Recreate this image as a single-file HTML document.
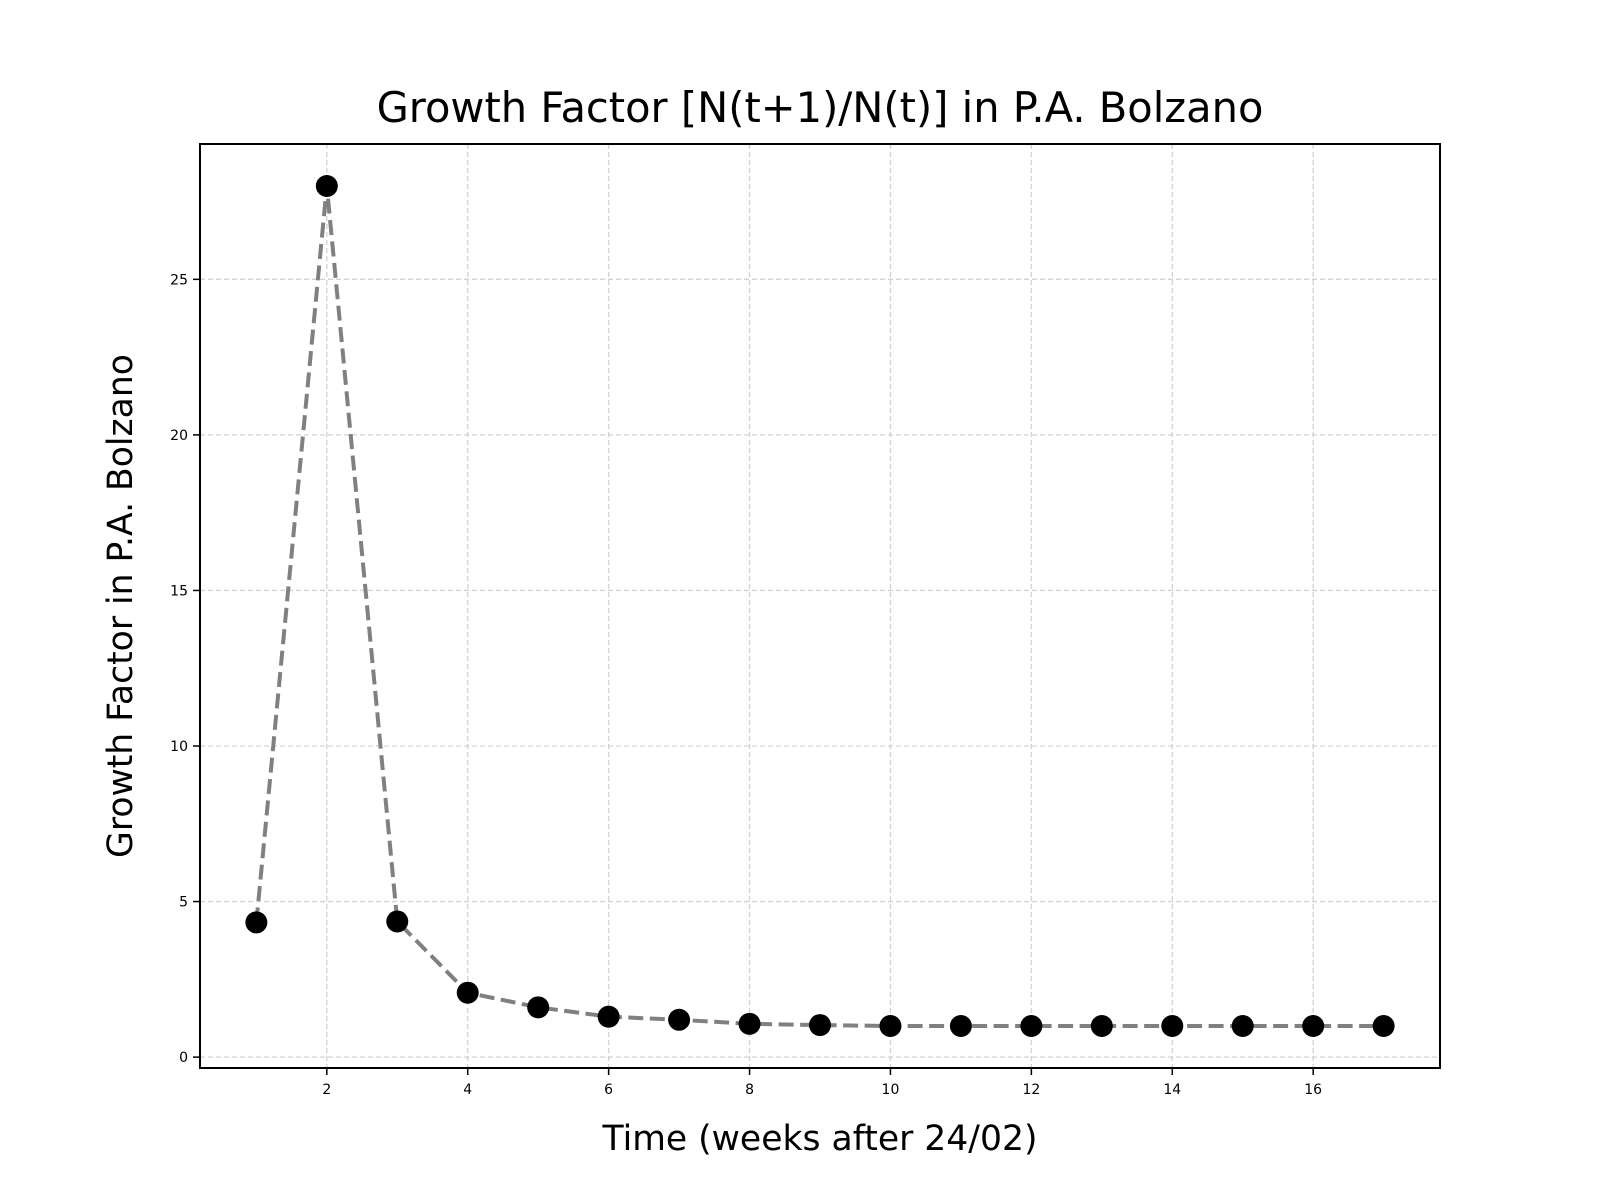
<!DOCTYPE html>
<html><head><meta charset="utf-8"><style>html,body{margin:0;padding:0;background:#fff}svg{display:block}</style></head>
<body>
<svg id="chart" width="1600" height="1200" xmlns="http://www.w3.org/2000/svg" font-family="'DejaVu Sans','Liberation Sans',sans-serif">
<rect width="1600" height="1200" fill="#fff"/>
<text x="820" y="122" font-size="41.6" text-anchor="middle" fill="#000">Growth Factor [N(t+1)/N(t)] in P.A. Bolzano</text>
<g id="grid"></g><g id="ticks"></g><g id="series"></g>
<rect x="200" y="144" width="1240" height="924" fill="none" stroke="#000" stroke-width="2"/>
<text x="820" y="1150" font-size="34.6" text-anchor="middle">Time (weeks after 24/02)</text>
<text transform="translate(132,606) rotate(-90)" font-size="34.6" text-anchor="middle">Growth Factor in P.A. Bolzano</text>
</svg>
<script>
const weeks = [1,2,3,4,5,6,7,8,9,10,11,12,13,14,15,16,17];
const growth = [4.33,28.0,4.36,2.07,1.6,1.3,1.2,1.07,1.03,1.0,1.0,1.0,1.0,1.0,1.0,1.0,1.0];
const xTicks = [2,4,6,8,10,12,14,16];
const yTicks = [0,5,10,15,20,25];
const NS='http://www.w3.org/2000/svg';
const L=200,R=1440,T=144,B=1068;
const xmin=0.2,xmax=17.8,ymin=-0.35,ymax=29.35;
const sx=v=>L+(v-xmin)/(xmax-xmin)*(R-L);
const sy=v=>B-(v-ymin)/(ymax-ymin)*(B-T);
function mk(tag,attrs,parent){const e=document.createElementNS(NS,tag);for(const k in attrs)e.setAttribute(k,attrs[k]);parent.appendChild(e);return e;}
const grid=document.getElementById('grid'),ticks=document.getElementById('ticks'),series=document.getElementById('series');
xTicks.forEach(t=>{
  const g=mk('line',{x1:sx(t),x2:sx(t),y1:T,y2:B,stroke:'#d3d3d3','stroke-width':1.3,'stroke-dasharray':'5,3'},grid);
  
  
  const tk=mk('line',{x1:sx(t),x2:sx(t),y1:B,y2:B+7,stroke:'#000','stroke-width':1.5},ticks);
  
  
  const lb=mk('text',{x:sx(t),y:B+26,'font-size':14,'text-anchor':'middle'},ticks);
  lb.textContent=t;
  
  
});
yTicks.forEach(t=>{
  const g=mk('line',{x1:L,x2:R,y1:sy(t),y2:sy(t),stroke:'#d3d3d3','stroke-width':1.3,'stroke-dasharray':'5,3'},grid);
  
  
  const tk=mk('line',{x1:L-7,x2:L,y1:sy(t),y2:sy(t),stroke:'#000','stroke-width':1.5},ticks);
  
  
  const lb=mk('text',{x:L-12,y:sy(t)+5,'font-size':14,'text-anchor':'end'},ticks);
  lb.textContent=t;
  
  
});
const pts=weeks.map((w,i)=>sx(w)+','+sy(growth[i])).join(' ');
const line=mk('polyline',{points:pts,fill:'none',stroke:'#808080','stroke-width':4,'stroke-dasharray':'15,6.5'},series);


weeks.forEach((w,i)=>{
  const c=mk('circle',{cx:sx(w),cy:sy(growth[i]),r:11,fill:'#000'},series);
  
  
});
</script>
</body></html>
